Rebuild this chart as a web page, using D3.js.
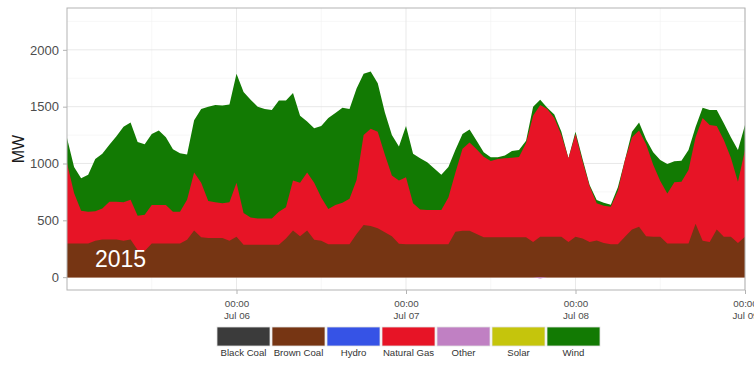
<!DOCTYPE html>
<html>
<head>
<meta charset="utf-8">
<script src="https://cdn.jsdelivr.net/npm/d3@7"></script>
<style>
  body { margin: 0; background: #fff; }
  svg { display: block; font-family: "Liberation Sans", Arial, sans-serif; }
</style>
</head>
<body>
<svg id="chart" width="754" height="377"></svg>
<script>
// generation by fuel, read hourly off the picture
// Jul 05 2015 00:00 -> Jul 09 2015 00:00, 97 points
const startTime = Date.UTC(2015, 6, 5);
const hours = d3.range(97);

const brownCoal = [
  297, 297, 297, 297, 320, 332, 332, 332, 320, 332,
  240, 230, 297, 297, 297, 297, 297, 330, 410, 350,
  345, 345, 345, 320, 355, 285, 285, 285, 285, 285,
  285, 340, 410, 360, 410, 330, 320, 290, 290, 290,
  290, 380, 458, 450, 430, 395, 360, 295, 290, 290,
  290, 290, 290, 290, 290, 400, 408, 408, 380, 350,
  350, 350, 350, 350, 350, 350, 310, 355, 355, 355,
  355, 310, 355, 340, 310, 323, 300, 290, 290, 355,
  420, 444, 360, 355, 355, 297, 297, 297, 297, 470,
  320, 310, 420, 355, 355, 300, 355
];
const naturalGas = [
  707, 443, 288, 278, 260, 273, 331, 331, 340, 348,
  300, 320, 337, 337, 337, 278, 278, 350, 510, 480,
  325, 315, 305, 340, 475, 280, 240, 232, 232, 232,
  290, 275, 440, 470, 510, 500, 380, 310, 344, 365,
  400, 475, 792, 855, 850, 685, 535, 555, 590, 360,
  305, 300, 300, 300, 410, 520, 722, 777, 745, 710,
  672, 690, 696, 700, 708, 830, 1110, 1160, 1125, 1045,
  895, 736, 905, 680, 490, 327, 328, 330, 470, 676,
  810, 846, 810, 635, 490, 438, 538, 543, 646, 760,
  1080, 1029, 910, 852, 695, 540, 764
];
const wind = [
  221, 230, 285, 325, 460, 480, 502, 577, 664, 680,
  650, 620, 626, 656, 596, 550, 515, 400, 460, 650,
  830, 855, 860, 860, 960, 1065, 1035, 983, 963, 953,
  980, 940, 770, 590, 450, 480, 630, 800, 811, 835,
  790, 805, 540, 505, 426, 370, 355, 300, 450, 435,
  451, 420, 365, 310, 270, 200, 130, 115, 75, 40,
  33, 15, 24, 60, 61, 20, 80, 45, 10, 30,
  30, 0, 20, 20, 10, 28, 27, 18, 30, 0,
  50, 70, 40, 110, 185, 260, 185, 185, 176, 90,
  90, 131, 140, 147, 180, 279, 220
];
// "Other" only shows as a tiny dip below zero on Jul 07
const otherHours = [66, 67, 68];
const otherValues = [0, -12, 0];

const categories = ["Black Coal", "Brown Coal", "Hydro", "Natural Gas", "Other", "Solar", "Wind"];
const colors = ["#3b3b3b", "#763513", "#3653e6", "#e71426", "#c080c3", "#c5c50c", "#127a03"];
const dayTicks = ["2015-07-06", "2015-07-07", "2015-07-08", "2015-07-09"];
const halfDayTicks = ["2015-07-05T12:00Z", "2015-07-06T12:00Z", "2015-07-07T12:00Z", "2015-07-08T12:00Z"];
const yTicks = [0, 500, 1000, 1500, 2000];
const yMinorTicks = [250, 750, 1250, 1750, 2250];
const yTitle = "MW";
const yearLabel = "2015";

var dimensions = {
  width: 754,
  height: 377,
  margin: { top: 8, right: 9, bottom: 87, left: 67 },
};
dimensions.boundedWidth = dimensions.width - dimensions.margin.left - dimensions.margin.right;
dimensions.boundedHeight = dimensions.height - dimensions.margin.top - dimensions.margin.bottom;

var svg = d3.select("#chart");
var bounds = svg
  .append("g")
  .attr("transform", `translate(${dimensions.margin.left},${dimensions.margin.top})`);

var toTime = (h) => new Date(startTime + h * 3600 * 1000);

var xScale = d3
  .scaleUtc()
  .domain([toTime(0), toTime(96)])
  .range([0, dimensions.boundedWidth]);

var yScale = d3
  .scaleLinear()
  .domain([-113, 2368])
  .range([dimensions.boundedHeight, 0]);

var colorScale = d3.scaleOrdinal(categories, colors);

// grid
bounds.append("g")
  .selectAll("line")
  .data(yMinorTicks)
  .join("line")
  .attr("x1", 0).attr("x2", dimensions.boundedWidth)
  .attr("y1", (d) => yScale(d)).attr("y2", (d) => yScale(d))
  .attr("stroke", "#f1f1f1").attr("stroke-width", 0.6);
bounds.append("g")
  .selectAll("line")
  .data(halfDayTicks.map((d) => new Date(d)))
  .join("line")
  .attr("x1", (d) => xScale(d)).attr("x2", (d) => xScale(d))
  .attr("y1", 0).attr("y2", dimensions.boundedHeight)
  .attr("stroke", "#f1f1f1").attr("stroke-width", 0.6);
bounds.append("g")
  .selectAll("line")
  .data(yTicks)
  .join("line")
  .attr("x1", 0).attr("x2", dimensions.boundedWidth)
  .attr("y1", (d) => yScale(d)).attr("y2", (d) => yScale(d))
  .attr("stroke", "#e3e3e3").attr("stroke-width", 0.8);
bounds.append("g")
  .selectAll("line")
  .data(dayTicks.map((d) => new Date(d)))
  .join("line")
  .attr("x1", (d) => xScale(d)).attr("x2", (d) => xScale(d))
  .attr("y1", 0).attr("y2", dimensions.boundedHeight)
  .attr("stroke", "#e3e3e3").attr("stroke-width", 0.8);

// stacked areas
var rows = hours.map((h, i) => ({
  time: toTime(h),
  "Brown Coal": brownCoal[i],
  "Natural Gas": naturalGas[i],
  Wind: wind[i],
}));
var stackKeys = ["Brown Coal", "Natural Gas", "Wind"];
var series = d3.stack().keys(stackKeys)(rows);

// each layer is painted from zero up to its top, top layer first, so no seams show
var area = d3
  .area()
  .x((d) => xScale(d.data.time))
  .y0(yScale(0))
  .y1((d) => yScale(d[1]));

bounds.append("g")
  .selectAll("path")
  .data(series.slice().reverse())
  .join("path")
  .attr("d", area)
  .attr("fill", (d) => colorScale(d.key));

var otherArea = d3
  .area()
  .x((d) => xScale(toTime(d[0])))
  .y0(yScale(0))
  .y1((d) => yScale(d[1]));
bounds.append("path")
  .datum(otherHours.map((h, i) => [h, otherValues[i]]))
  .attr("d", otherArea)
  .attr("fill", colorScale("Other"));

// year label
bounds.append("text")
  .attr("x", 28)
  .attr("y", 259)
  .attr("fill", "white")
  .style("font-size", "23px")
  .text(yearLabel);

// panel border
bounds.append("rect")
  .attr("width", dimensions.boundedWidth)
  .attr("height", dimensions.boundedHeight)
  .attr("fill", "none")
  .attr("stroke", "#b3b3b3")
  .attr("stroke-width", 1);

// axes
var yAxis = d3.axisLeft(yScale)
  .tickValues(yTicks)
  .tickFormat(d3.format("d"))
  .tickSize(4)
  .tickPadding(4);
var yAxisG = bounds.append("g").call(yAxis);
yAxisG.select(".domain").remove();
yAxisG.selectAll("line").attr("stroke", "#b3b3b3");
yAxisG.selectAll("text")
  .attr("fill", "#4d4d4d")
  .style("font-size", "13px")
  .style("font-family", "Liberation Sans, Arial, sans-serif");

var fmtDay = d3.utcFormat("%b %d");
var xAxis = d3.axisBottom(xScale)
  .tickValues(dayTicks.map((d) => new Date(d)))
  .tickSize(4)
  .tickFormat("");
var xAxisG = bounds.append("g")
  .attr("transform", `translate(0,${dimensions.boundedHeight})`)
  .call(xAxis);
xAxisG.select(".domain").remove();
xAxisG.selectAll("line").attr("stroke", "#b3b3b3");
xAxisG.selectAll(".tick")
  .append("text")
  .attr("text-anchor", "middle")
  .attr("fill", "#4d4d4d")
  .style("font-size", "9.8px")
  .style("font-family", "Liberation Sans, Arial, sans-serif")
  .each(function (d) {
    var t = d3.select(this);
    t.append("tspan").attr("x", 0).attr("y", 17).text(d3.utcFormat("%H:%M")(d));
    t.append("tspan").attr("x", 0).attr("y", 29).text(fmtDay(d));
  });

// y title
svg.append("text")
  .attr("transform", `translate(24,${dimensions.margin.top + dimensions.boundedHeight / 2}) rotate(-90)`)
  .attr("text-anchor", "middle")
  .attr("fill", "#1a1a1a")
  .style("font-size", "16px")
  .text(yTitle);

// legend
var legend = svg.append("g").attr("transform", "translate(217,327)");
var keys = legend
  .selectAll("g")
  .data(categories)
  .join("g")
  .attr("transform", (d, i) => `translate(${i * 55},0)`);
keys.append("rect")
  .attr("width", 53)
  .attr("height", 19)
  .attr("fill", (d) => colorScale(d))
  .attr("stroke", "#e0e0e0")
  .attr("stroke-width", 0.8);
keys.append("text")
  .attr("x", 26.5)
  .attr("y", 29)
  .attr("text-anchor", "middle")
  .attr("fill", "#333")
  .style("font-size", "9.6px")
  .text((d) => d);
</script>
</body>
</html>
